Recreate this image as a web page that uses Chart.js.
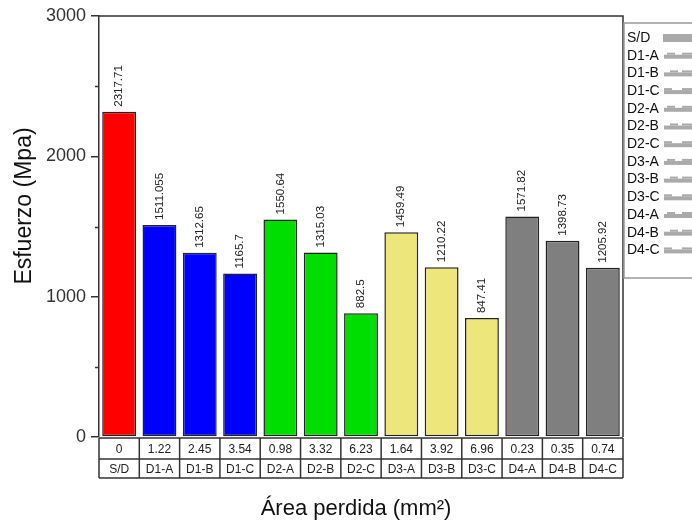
<!DOCTYPE html>
<html>
<head>
<meta charset="utf-8">
<script src="https://cdn.jsdelivr.net/npm/chart.js@4.4.1/dist/chart.umd.min.js"></script>
<style>
  html, body { margin: 0; padding: 0; background: #fff; }
  #wrap { width: 692px; height: 523px; }
</style>
</head>
<body>
<div id="wrap"><canvas id="chart" width="692" height="523"></canvas></div>
<script>
// muestras, esfuerzo y área perdida
const muestras = ['S/D', 'D1-A', 'D1-B', 'D1-C', 'D2-A', 'D2-B', 'D2-C', 'D3-A', 'D3-B', 'D3-C', 'D4-A', 'D4-B', 'D4-C'];
const esfuerzo = [2317.71, 1511.055, 1312.65, 1165.7, 1550.64, 1315.03, 882.5, 1459.49, 1210.22, 847.41, 1571.82, 1398.73, 1205.92];
const areaPerdida = [0, 1.22, 2.45, 3.54, 0.98, 3.32, 6.23, 1.64, 3.92, 6.96, 0.23, 0.35, 0.74];
const yTicks = [0, 1000, 2000, 3000];
const yMinorTicks = [500, 1500, 2500];

const FONT = "'Liberation Sans', Arial, sans-serif";
const colorGrupo = {
    'S': '#ff0000',
    '1': '#0000ff',
    '2': '#00dd00',
    '3': '#ede67a',
    '4': '#7f7f7f'
};
const barColors = muestras.map(m => m === 'S/D' ? colorGrupo['S'] : colorGrupo[m[1]]);

// etiquetas de valor rotadas encima de cada barra
const valueLabels = {
    id: 'valueLabels',
    afterDatasetsDraw(chart) {
        const ctx = chart.ctx;
        const meta = chart.getDatasetMeta(0);
        ctx.save();
        ctx.font = '11.5px ' + FONT;
        ctx.fillStyle = '#222';
        ctx.textAlign = 'left';
        ctx.textBaseline = 'middle';
        meta.data.forEach((bar, i) => {
            ctx.save();
            ctx.translate(bar.x, bar.y - 5);
            ctx.rotate(-Math.PI / 2);
            ctx.fillText(String(esfuerzo[i]), 0, 0);
            ctx.restore();
        });
        ctx.restore();
    }
};

// marco, ticks menores, tabla inferior, títulos y leyenda
const decoraciones = {
    id: 'decoraciones',
    afterDraw(chart) {
        const ctx = chart.ctx;
        const area = chart.chartArea;
        const x = chart.scales.x;
        const y = chart.scales.y;
        ctx.save();

        // marco superior y derecho
        ctx.strokeStyle = '#333';
        ctx.lineWidth = 1.5;
        ctx.beginPath();
        ctx.moveTo(area.left, area.top);
        ctx.lineTo(area.right, area.top);
        ctx.lineTo(area.right, area.bottom);
        ctx.stroke();

        // ticks menores
        yMinorTicks.forEach(v => {
            const py = Math.round(y.getPixelForValue(v)) + 0.5;
            ctx.beginPath();
            ctx.moveTo(area.left - 4, py);
            ctx.lineTo(area.left, py);
            ctx.stroke();
        });

        // tabla bajo el eje x
        const top = area.bottom + 1;
        const mid = top + 21;
        const bot = mid + 19;
        const step = (area.right - area.left) / muestras.length;
        ctx.lineWidth = 1.5;
        ctx.strokeStyle = '#333';
        ctx.beginPath();
        ctx.moveTo(area.left, top); ctx.lineTo(area.right, top);
        ctx.moveTo(area.left, mid); ctx.lineTo(area.right, mid);
        ctx.moveTo(area.left, bot); ctx.lineTo(area.right, bot);
        for (let i = 0; i <= muestras.length; i++) {
            const px = area.left + i * step;
            ctx.moveTo(px, top); ctx.lineTo(px, bot);
        }
        ctx.stroke();
        ctx.font = '12px ' + FONT;
        ctx.fillStyle = '#222';
        ctx.textAlign = 'center';
        ctx.textBaseline = 'middle';
        muestras.forEach((m, i) => {
            const cx = x.getPixelForValue(i);
            ctx.fillText(String(areaPerdida[i]), cx, (top + mid) / 2 + 1);
            ctx.fillText(m, cx, (mid + bot) / 2 + 1);
        });

        // título eje x
        ctx.font = '22px ' + FONT;
        ctx.fillStyle = '#111';
        ctx.textAlign = 'center';
        ctx.fillText('Área perdida (mm²)', 356, 509);

        // título eje y
        ctx.save();
        ctx.translate(25, 206);
        ctx.rotate(-Math.PI / 2);
        ctx.font = '23px ' + FONT;
        ctx.fillText('Esfuerzo (Mpa)', 0, 0);
        ctx.restore();

        // leyenda
        const lx = 624, ly = 23, lh = 255;
        ctx.strokeStyle = '#999';
        ctx.lineWidth = 1.5;
        ctx.strokeRect(lx, ly, 100, lh);
        ctx.font = '14px ' + FONT;
        ctx.fillStyle = '#111';
        ctx.textAlign = 'left';
        ctx.textBaseline = 'middle';
        muestras.forEach((m, i) => {
            const ty = 38 + i * 17.7;
            ctx.fillText(m, 627, ty);
            ctx.fillStyle = '#aaa';
            if (i === 0) {
                ctx.fillRect(663, ty - 4, 30, 8);
            } else {
                ctx.fillRect(664, ty - 1, 30, 4);
                ctx.fillRect(664 + (i % 3) * 3, ty - 3, 8, 2);
                ctx.fillRect(682, ty - 3, 10, 2);
            }
            ctx.fillStyle = '#111';
        });

        ctx.restore();
    }
};

new Chart(document.getElementById('chart'), {
    type: 'bar',
    data: {
        labels: muestras,
        datasets: [{
            data: esfuerzo,
            backgroundColor: barColors,
            borderColor: '#222',
            borderWidth: 1.5,
            borderSkipped: false,
            categoryPercentage: 1,
            barPercentage: 0.84
        }]
    },
    options: {
        responsive: false,
        animation: false,
        devicePixelRatio: 1,
        layout: { padding: { top: 16, right: 69, left: 0, bottom: 0 } },
        plugins: {
            legend: { display: false },
            tooltip: { enabled: false }
        },
        scales: {
            x: {
                grid: { display: false },
                border: { display: false },
                ticks: { display: false },
                afterFit: s => { s.height = 86; }
            },
            y: {
                min: 0,
                max: 3000,
                afterBuildTicks: s => { s.ticks = yTicks.map(v => ({ value: v })); },
                grid: {
                    drawOnChartArea: false,
                    drawTicks: true,
                    tickLength: 8,
                    color: '#333',
                    lineWidth: 1.5
                },
                border: { display: true, color: '#333', width: 1.5 },
                ticks: {
                    padding: 5,
                    color: '#333',
                    font: { family: FONT, size: 18 },
                    callback: v => String(v)
                },
                afterFit: s => { s.width = 99; }
            }
        }
    },
    plugins: [valueLabels, decoraciones]
});
</script>
</body>
</html>
